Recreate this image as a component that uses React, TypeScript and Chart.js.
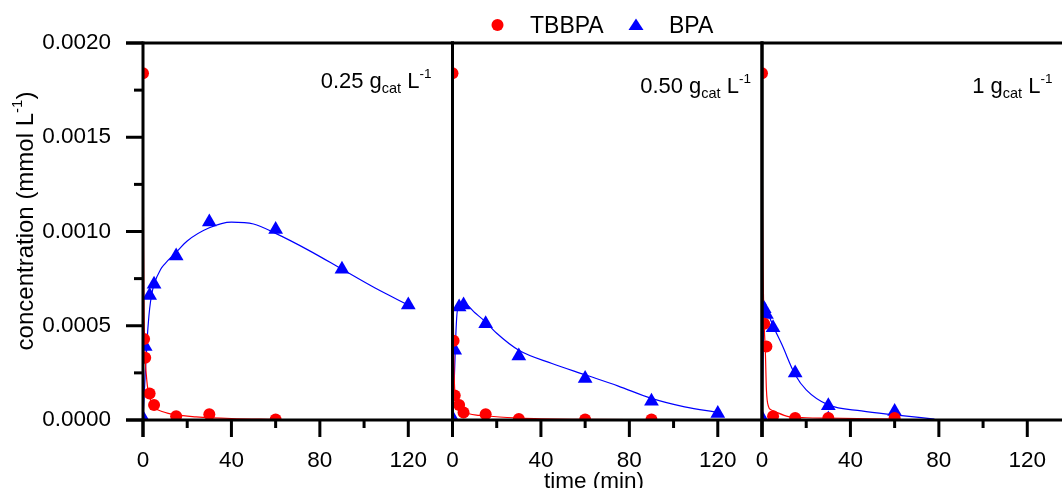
import React, { useEffect, useRef } from 'react';
import { Chart, registerables } from 'chart.js';

Chart.register(...registerables);

const FONT = '"Liberation Sans", Arial, sans-serif';

// ---- axes ----
const X_MAX = 140;
const Y_MAX = 0.002;
const X_TICKS = [0, 40, 80, 120];
const X_MINOR = [20, 60, 100];
const Y_TICKS = [0, 0.0005, 0.001, 0.0015, 0.002];
const Y_MINOR = [0.00025, 0.00075, 0.00125, 0.00175];
const SERIES = ['TBBPA', 'BPA'];
const PANEL_DOSES = ['0.25', '0.50', '1'];

// ---- panel 1: 0.25 g/L ----
const P1_TBBPA_T = [0, 0.5, 1, 3, 5, 15, 30, 60];
const P1_TBBPA = [0.00184, 0.00043, 0.00033, 0.00014, 0.00008, 0.00002, 0.00003, 0.000003];
const P1_BPA_T = [0, 1, 3, 5, 15, 30, 60, 90, 120];
const P1_BPA = [0.00001, 0.00039, 0.00066, 0.00072, 0.00087, 0.00105, 0.00101, 0.0008, 0.00061];
const P1_TBBPA_FIT_T = [0, 0.25, 0.5, 1, 1.5, 2, 3, 5, 9, 15, 24, 40, 60];
const P1_TBBPA_FIT = [0.00184, 0.0009, 0.00055, 0.00033, 0.00024, 0.00018, 0.00012, 0.00007, 0.000044, 0.000027, 0.000017, 0.000008, 0.000003];
const P1_BPA_FIT_T = [0, 0.5, 1, 2, 3, 4, 5, 8, 10, 15, 20, 30, 40, 50, 60, 75, 90, 105, 120];
const P1_BPA_FIT = [0, 0.00012, 0.00024, 0.00045, 0.00059, 0.00067, 0.00072, 0.0008, 0.00083, 0.00089, 0.00095, 0.00102, 0.00105, 0.00104, 0.00099, 0.0009, 0.0008, 0.0007, 0.00061];

// ---- panel 2: 0.50 g/L ----
const P2_TBBPA_T = [0, 0.5, 1, 3, 5, 15, 30, 60, 90];
const P2_TBBPA = [0.00184, 0.00042, 0.00013, 0.00008, 0.00004, 0.00003, 0.000005, 0.000003, 0.000003];
const P2_BPA_T = [0, 1, 3, 5, 15, 30, 60, 90, 120];
const P2_BPA = [0.00001, 0.00037, 0.0006, 0.00061, 0.00051, 0.00034, 0.00022, 0.0001, 0.000035];
const P2_TBBPA_FIT_T = [0, 0.25, 0.5, 1, 2, 3, 5, 7.5, 12, 15, 30, 60, 90];
const P2_TBBPA_FIT = [0.00184, 0.0008, 0.00042, 0.00016, 0.00009, 0.000066, 0.000048, 0.000033, 0.000025, 0.000022, 0.00001, 0.000003, 0.000001];
const P2_BPA_FIT_T = [0, 0.5, 1, 1.5, 2, 3, 5, 10, 15, 20, 30, 45, 60, 75, 90, 105, 120];
const P2_BPA_FIT = [0, 0.00012, 0.00028, 0.00045, 0.00056, 0.00062, 0.00062, 0.00057, 0.00052, 0.00046, 0.00037, 0.0003, 0.00024, 0.00018, 0.000115, 0.00007, 0.00004];

// ---- panel 3: 1 g/L ----
const P3_TBBPA_T = [0, 1, 2, 5, 15, 30, 60];
const P3_TBBPA = [0.00184, 0.00051, 0.00039, 0.00002, 0.00001, 0.00001, 0.00001];
const P3_BPA_T = [0, 1, 2, 5, 15, 30, 30, 60];
const P3_BPA = [0.00001, 0.00059, 0.00056, 0.00049, 0.00025, 0.000075, 0.000005, 0.000045];
const P3_TBBPA_FIT_T = [0, 0.25, 0.5, 1, 1.5, 2, 3, 4, 6, 12, 20, 30, 60];
const P3_TBBPA_FIT = [0.00184, 0.0011, 0.00078, 0.0005, 0.00037, 0.00016, 0.00007, 0.000055, 0.000044, 0.000018, 0.000012, 0.00001, 0.000005];
const P3_BPA_FIT_T = [0, 0.5, 1, 1.5, 2, 3, 5, 9, 15, 20, 30, 45, 60, 78];
const P3_BPA_FIT = [0, 0.00035, 0.00058, 0.00062, 0.0006, 0.00056, 0.0005, 0.0004, 0.00024, 0.00016, 0.00008, 0.000048, 0.000027, 0.000005];

const RED = '#ff0000';
const BLUE = '#0000ff';

const pts = (t: number[], v: number[]) => t.map((x, i) => ({ x, y: v[i] }));

const PANELS = [
  { axis: 'x1', tbT: P1_TBBPA_T, tb: P1_TBBPA, bpT: P1_BPA_T, bp: P1_BPA, tbFT: P1_TBBPA_FIT_T, tbF: P1_TBBPA_FIT, bpFT: P1_BPA_FIT_T, bpF: P1_BPA_FIT },
  { axis: 'x2', tbT: P2_TBBPA_T, tb: P2_TBBPA, bpT: P2_BPA_T, bp: P2_BPA, tbFT: P2_TBBPA_FIT_T, tbF: P2_TBBPA_FIT, bpFT: P2_BPA_FIT_T, bpF: P2_BPA_FIT },
  { axis: 'x3', tbT: P3_TBBPA_T, tb: P3_TBBPA, bpT: P3_BPA_T, bp: P3_BPA, tbFT: P3_TBBPA_FIT_T, tbF: P3_TBBPA_FIT, bpFT: P3_BPA_FIT_T, bpF: P3_BPA_FIT },
];

function buildDatasets() {
  const ds: any[] = [];
  PANELS.forEach((p) => {
    ds.push({
      label: SERIES[0] + ' fit', data: pts(p.tbFT, p.tbF), xAxisID: p.axis, yAxisID: 'y',
      borderColor: RED, borderWidth: 1.2, pointRadius: 0, fill: false,
      cubicInterpolationMode: 'monotone', order: 3,
    });
    ds.push({
      label: SERIES[1] + ' fit', data: pts(p.bpFT, p.bpF), xAxisID: p.axis, yAxisID: 'y',
      borderColor: BLUE, borderWidth: 1.2, pointRadius: 0, fill: false,
      cubicInterpolationMode: 'monotone', order: 3,
    });
    ds.push({
      label: SERIES[1], data: pts(p.bpT, p.bp), xAxisID: p.axis, yAxisID: 'y',
      showLine: false, pointStyle: 'triangle', pointRadius: 8.5, pointBorderWidth: 0,
      pointBackgroundColor: BLUE, backgroundColor: BLUE, borderColor: BLUE, order: 2,
    });
    ds.push({
      label: SERIES[0], data: pts(p.tbT, p.tb), xAxisID: p.axis, yAxisID: 'y',
      showLine: false, pointStyle: 'circle', pointRadius: 6, pointBorderWidth: 0,
      pointBackgroundColor: RED, backgroundColor: RED, borderColor: RED, order: 1,
    });
  });
  return ds;
}

type Seg = { text: string; size: number; dy: number };
function drawRich(ctx: CanvasRenderingContext2D, segs: Seg[], x: number, y: number, align: 'left' | 'right' | 'center') {
  let total = 0;
  const widths = segs.map((s) => {
    ctx.font = `${s.size}px ${FONT}`;
    const w = ctx.measureText(s.text).width;
    total += w;
    return w;
  });
  let cx = align === 'left' ? x : align === 'right' ? x - total : x - total / 2;
  ctx.textAlign = 'left';
  ctx.textBaseline = 'alphabetic';
  segs.forEach((s, i) => {
    ctx.font = `${s.size}px ${FONT}`;
    ctx.fillText(s.text, cx, y + s.dy);
    cx += widths[i];
  });
}

const LABEL_RIGHT_OFFSETS = [21, 11, 19];
const LABEL_BASELINES = [88, 93, 93];

const decor = {
  id: 'decor',
  beforeDatasetDraw(chart: any, args: any) {
    const m = args.meta;
    const ctx = chart.ctx;
    ctx.save();
    ctx.beginPath();
    ctx.rect(m.xScale.left, m.yScale.top, m.xScale.width, m.yScale.height);
    ctx.clip();
  },
  afterDatasetDraw(chart: any) {
    chart.ctx.restore();
  },
  afterDraw(chart: any) {
    const ctx: CanvasRenderingContext2D = chart.ctx;
    const area = chart.chartArea;
    const ys = chart.scales.y;
    const top = area.top;
    const bot = area.bottom;
    const L = area.left;
    const line = (x1: number, y1: number, x2: number, y2: number) => {
      ctx.beginPath();
      ctx.moveTo(x1, y1);
      ctx.lineTo(x2, y2);
      ctx.stroke();
    };
    ctx.save();
    ctx.strokeStyle = '#000';
    ctx.lineWidth = 3;
    ctx.lineCap = 'butt';
    line(L - 17, top, area.right + 2, top);
    line(L - 17, bot, area.right + 2, bot);
    Y_TICKS.forEach((v) => {
      const p = ys.getPixelForValue(v);
      line(L - 17, p, L, p);
    });
    Y_MINOR.forEach((v) => {
      const p = ys.getPixelForValue(v);
      line(L - 9, p, L, p);
    });
    ['x1', 'x2', 'x3'].forEach((id, i) => {
      const s = chart.scales[id];
      line(s.left, top - 1.5, s.left, bot + 17);
      line(s.right, top - 1.5, s.right, bot + 17);
      X_TICKS.forEach((v) => {
        const p = s.getPixelForValue(v);
        line(p, bot, p, bot + 17);
      });
      X_MINOR.forEach((v) => {
        const p = s.getPixelForValue(v);
        line(p, bot, p, bot + 8);
      });
      // dose label
      ctx.fillStyle = '#000';
      drawRich(
        ctx,
        [
          { text: PANEL_DOSES[i] + ' g', size: 22, dy: 0 },
          { text: 'cat', size: 14.5, dy: 5 },
          { text: ' L', size: 22, dy: 0 },
          { text: '-1', size: 13.5, dy: -10 },
        ],
        s.right - LABEL_RIGHT_OFFSETS[i],
        LABEL_BASELINES[i],
        'right'
      );
    });

    // legend
    ctx.fillStyle = RED;
    ctx.beginPath();
    ctx.arc(497.5, 25, 6, 0, Math.PI * 2);
    ctx.fill();
    ctx.fillStyle = BLUE;
    ctx.beginPath();
    ctx.moveTo(636, 18.5);
    ctx.lineTo(643.5, 30);
    ctx.lineTo(628.5, 30);
    ctx.closePath();
    ctx.fill();
    ctx.fillStyle = '#000';
    ctx.font = `23px ${FONT}`;
    ctx.textAlign = 'left';
    ctx.textBaseline = 'alphabetic';
    ctx.fillText(SERIES[0], 530, 33);
    ctx.fillText(SERIES[1], 669, 33);

    // y title
    ctx.save();
    ctx.translate(32.5, 221);
    ctx.rotate(-Math.PI / 2);
    drawRich(
      ctx,
      [
        { text: 'concentration (mmol L', size: 24, dy: 0 },
        { text: '-1', size: 15, dy: -11 },
        { text: ')', size: 24, dy: 0 },
      ],
      0,
      0,
      'center'
    );
    ctx.restore();

    // x title
    drawRich(ctx, [{ text: 'time (min)', size: 22.5, dy: 0 }], 594, 488, 'center');
    ctx.restore();
  },
};

function makeXScale() {
  return {
    type: 'linear',
    position: 'bottom',
    stack: 'x',
    stackWeight: 1,
    min: 0,
    max: X_MAX,
    grid: { display: false, drawTicks: false },
    border: { display: false },
    afterBuildTicks: (s: any) => {
      s.ticks = X_TICKS.map((v) => ({ value: v }));
    },
    afterFit: (s: any) => {
      s.height = 68;
      s.paddingLeft = 0;
      s.paddingRight = 0;
    },
    ticks: {
      padding: 27,
      color: '#000',
      maxRotation: 0,
      autoSkip: false,
      font: { family: FONT, size: 22.5 },
      callback: (v: any) => String(v),
    },
  };
}

export default function App() {
  const ref = useRef<HTMLCanvasElement>(null);
  useEffect(() => {
    if (!ref.current) return;
    const chart = new Chart(ref.current, {
      type: 'line',
      data: { datasets: buildDatasets() },
      options: {
        responsive: false,
        animation: false,
        devicePixelRatio: 1,
        events: [],
        layout: { padding: { top: 43, left: 0, right: 7, bottom: 0 } },
        plugins: { legend: { display: false }, tooltip: { enabled: false }, title: { display: false } },
        scales: {
          y: {
            type: 'linear',
            position: 'left',
            min: 0,
            max: Y_MAX,
            grid: { display: false, drawTicks: false },
            border: { display: false },
            afterBuildTicks: (s: any) => {
              s.ticks = Y_TICKS.map((v) => ({ value: v }));
            },
            afterFit: (s: any) => {
              s.width = 143;
              s.paddingTop = 0;
              s.paddingBottom = 0;
            },
            ticks: {
              padding: 32,
              color: '#000',
              font: { family: FONT, size: 22.5 },
              callback: (v: any) => Number(v).toFixed(4),
            },
          },
          x1: makeXScale(),
          x2: makeXScale(),
          x3: makeXScale(),
        } as any,
      } as any,
      plugins: [decor],
    });
    return () => chart.destroy();
  }, []);
  return (
    <div style={{ position: 'fixed', left: 0, top: 0, width: 1062, height: 488, overflow: 'hidden', background: '#fff' }}>
      <canvas ref={ref} width={1080} height={488} style={{ display: 'block', width: 1080, height: 488 }} />
    </div>
  );
}
